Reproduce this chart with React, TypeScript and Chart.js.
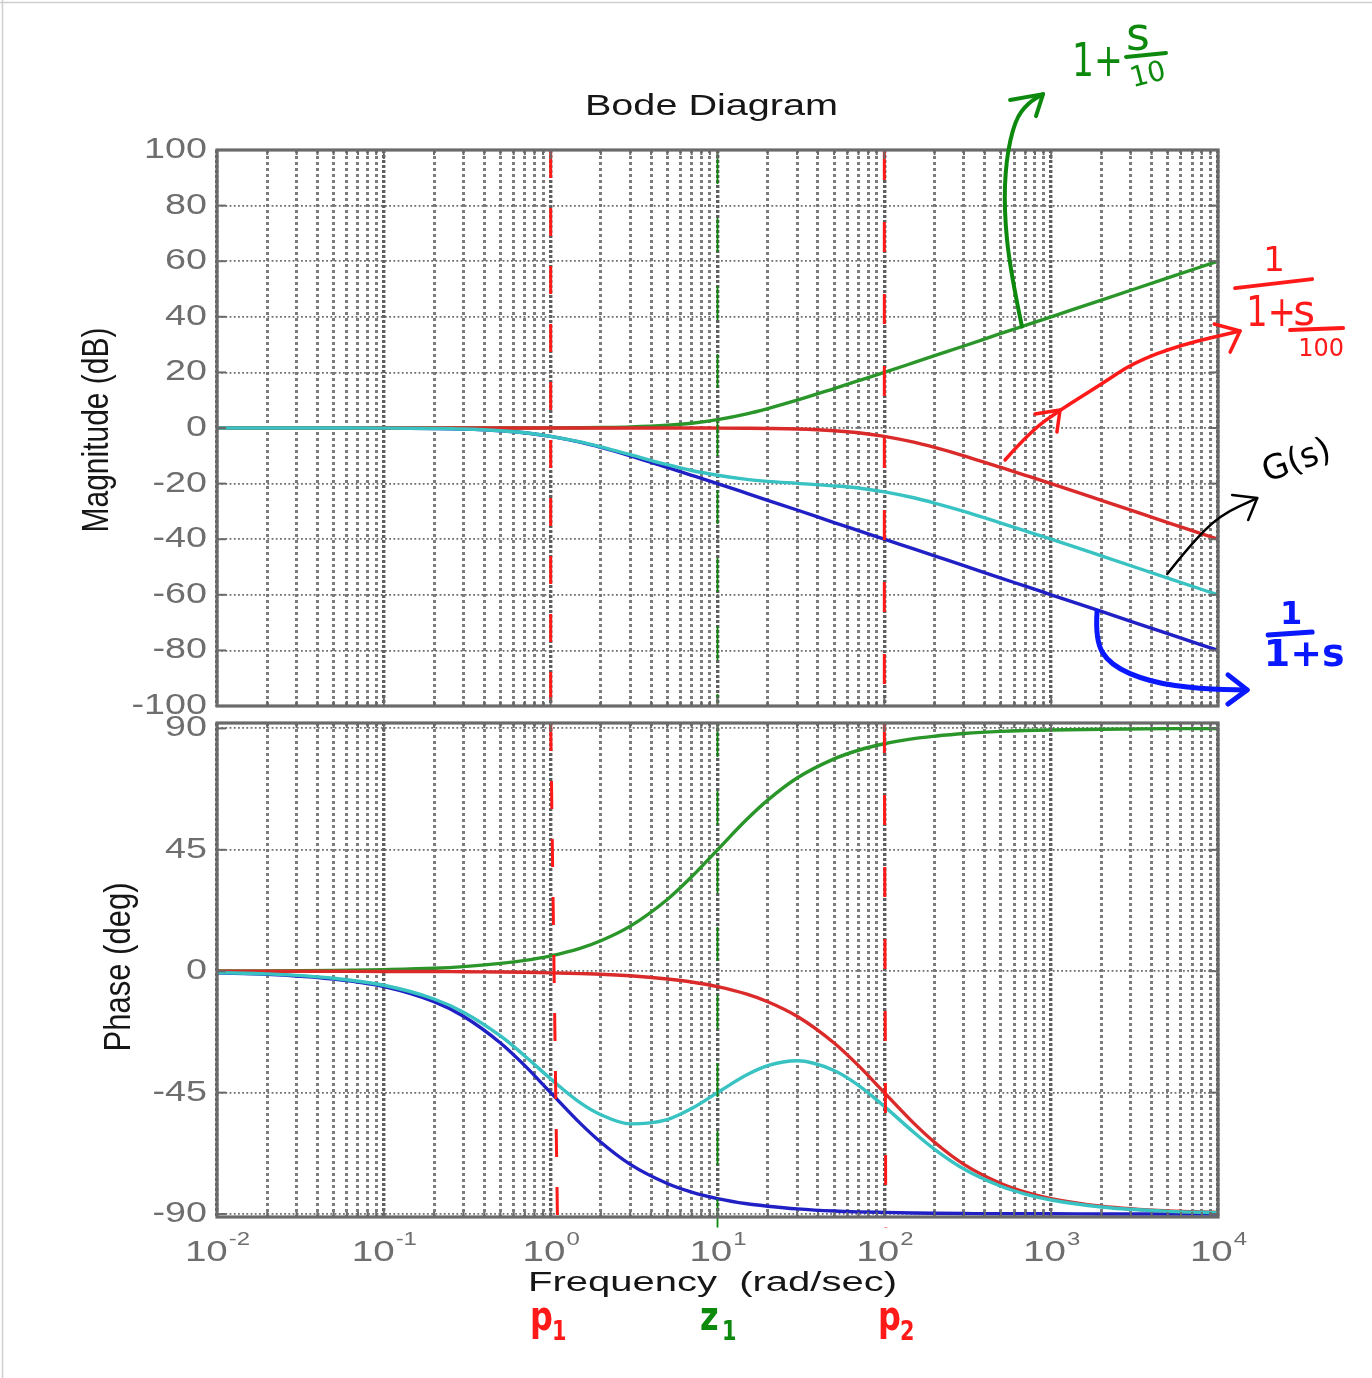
import React, { useEffect, useRef } from 'react';
import { Chart, registerables } from 'chart.js';
Chart.register(...registerables);

// ---------------- data ----------------
const freq = [0.01, 0.02, 0.05, 0.1, 0.2, 0.3, 0.5, 0.7, 1, 1.5, 2, 3, 5, 7, 10, 15, 20, 30, 50, 70, 100, 150, 200, 300, 500, 700, 1000, 2000, 5000, 10000];

const magBlue = [0, 0, -0.01, -0.04, -0.17, -0.37, -0.97, -1.7, -3.0, -5.1, -7.0, -10.0, -14.2, -17.0, -20.0, -23.5, -26.0, -29.5, -34.0, -36.9, -40.0, -43.5, -46.0, -49.5, -54.0, -56.9, -60.0, -66.0, -74.0, -80.0];
const magGreen = [0, 0, 0, 0, 0, 0, 0, 0.02, 0.04, 0.1, 0.17, 0.37, 0.97, 1.7, 3.0, 5.1, 7.0, 10.0, 14.2, 17.0, 20.0, 23.5, 26.0, 29.5, 34.0, 36.9, 40.0, 46.0, 54.0, 60.0];
const magRed = [0, 0, 0, 0, 0, 0, 0, 0, 0, 0, 0, 0, 0, 0, -0.04, -0.1, -0.17, -0.37, -0.97, -1.7, -3.0, -5.1, -7.0, -10.0, -14.2, -17.0, -20.0, -26.0, -34.0, -40.0];
const magG = [0, 0, -0.01, -0.04, -0.17, -0.37, -0.97, -1.7, -3.0, -5.0, -6.8, -9.6, -13.2, -15.3, -17.0, -18.5, -19.2, -19.9, -20.8, -21.6, -23.0, -25.1, -27.0, -30.0, -34.2, -37.0, -40.0, -46.0, -54.0, -60.0];

const phaseBlue = [-0.6, -1.1, -2.9, -5.7, -11.3, -16.7, -26.6, -35.0, -45.0, -56.3, -63.4, -71.6, -78.7, -81.9, -84.3, -86.2, -87.1, -88.1, -88.9, -89.2, -89.4, -89.6, -89.7, -89.8, -89.9, -89.9, -89.9, -90, -90, -90];
const phaseGreen = [0.06, 0.1, 0.3, 0.6, 1.1, 1.7, 2.9, 4.0, 5.7, 8.5, 11.3, 16.7, 26.6, 35.0, 45.0, 56.3, 63.4, 71.6, 78.7, 81.9, 84.3, 86.2, 87.1, 88.1, 88.9, 89.2, 89.4, 89.7, 89.9, 89.9];
const phaseRed = [0, 0, 0, -0.1, -0.1, -0.2, -0.3, -0.4, -0.6, -0.9, -1.1, -1.7, -2.9, -4.0, -5.7, -8.5, -11.3, -16.7, -26.6, -35.0, -45.0, -56.3, -63.4, -71.6, -78.7, -81.9, -84.3, -87.1, -88.9, -89.4];
const phaseG = [-0.5, -1.0, -2.6, -5.2, -10.3, -15.2, -24.0, -31.4, -39.9, -48.7, -53.2, -56.6, -55.0, -50.9, -45.0, -38.4, -35.0, -33.2, -36.8, -42.3, -50.1, -59.7, -66.0, -73.3, -79.7, -82.6, -84.8, -87.4, -89.0, -89.5];

const magTicks = [-100, -80, -60, -40, -20, 0, 20, 40, 60, 80, 100];
const phaseTicks = [-90, -45, 0, 45, 90];
const decadeExps = [-2, -1, 0, 1, 2, 3, 4];
const mantissas = [1, 2, 3, 4, 5, 6, 7, 8, 9];

// hand-drawn dashed markers (p1, z1, p2)
const handFreqs = [1, 10, 100];
const handLean = [1.1, 1.0, 1.02];

// hand-drawn arrows, in [frequency, value] units of the panel they sit on
const arrowGreenPath = [[668, 36.5], [567, 56.8], [522, 78.4], [536, 96.4], [607, 110.8], [727, 116.9], [894, 120.1]];
const arrowGreenHead = [[567, 118.0], [894, 120.1], [811, 112.2]];
const arrowRedPath = [[529, -11.5], [746, -1.4], [1130, 6.5], [1965, 15.5], [3097, 23.4], [5930, 29.9], [13550, 34.9]];
const arrowRedHeadMid = [[800, 5.0], [1130, 6.5], [1083, -1.4]];
const arrowRedHead = [[9490, 37.4], [13550, 34.9], [11830, 27.3]];
const arrowBlackPath = [[4966, -52.5], [6790, -42.1], [10280, -31.3], [17180, -25.2]];
const arrowBlackHead = [[12160, -24.1], [17180, -25.2], [15170, -33.1]];
const arrowBluePath = [[1884, -66], [1833, -76.3], [2255, -85.3], [3917, -91.4], [7818, -93.9], [14960, -94.2]];
const arrowBlueHead = [[11480, -88.8], [14960, -94.2], [11480, -99.3]];

const greenLabelAt = [2586, 136];
const redLabelAt = [27040, 46.0];
const gLabelAt = [29810, -12.2];
const blueLabelAt = [31070, -73.4];
const cornerLabels = [
  { at: [0.752, -132.9], main: 'p', sub: '1', color: '#ff1a1a' },
  { at: [7.857, -132.9], main: 'z', sub: '1', color: '#0d8a0d' },
  { at: [91.66, -132.9], main: 'p', sub: '2', color: '#ff1a1a' },
];

// ---------------- styles ----------------
const W = 1372;
const H = 1378;
const SANS = '"Liberation Sans", Arial, Helvetica, sans-serif';
const HAND = '"DejaVu Sans", "Liberation Sans", sans-serif';
const SX = 1.33;
const TICK_GREY = '#6e6e6e';
const FRAME = '#6a6a6a';
const C_BLUE = '#2020c4';
const C_GREEN = '#2a962a';
const C_RED = '#da2a2a';
const C_CYAN = '#38c2c2';
const INK_RED = '#ff1a1a';
const INK_GREEN = '#0d8a0d';
const INK_BLUE = '#0a18ff';

const gridFreqs: number[] = [];
decadeExps.slice(0, -1).forEach((e) => mantissas.forEach((m) => gridFreqs.push(m * Math.pow(10, e))));
gridFreqs.push(Math.pow(10, decadeExps[decadeExps.length - 1]));

const isDecade = (v: number) => {
  if (!v) return false;
  const l = Math.log10(v);
  return Math.abs(l - Math.round(l)) < 1e-6;
};

function drawText(ctx: any, s: string, x: number, y: number, size: number, o: any = {}) {
  ctx.save();
  ctx.font = `${o.weight || 'normal'} ${size}px ${o.family || SANS}`;
  let sx = o.sx ?? 1;
  if (o.fitW) sx = o.fitW / ctx.measureText(s).width;
  ctx.translate(x, y);
  if (o.rot) ctx.rotate(o.rot);
  ctx.scale(sx, o.sy ?? 1);
  ctx.textAlign = o.align || 'left';
  ctx.textBaseline = o.base || 'alphabetic';
  ctx.fillStyle = o.color || '#000';
  ctx.fillText(s, 0, 0);
  ctx.restore();
}

const toPx = (chart: any, p: number[]) => [chart.scales.x.getPixelForValue(p[0]), chart.scales.y.getPixelForValue(p[1])];

function strokeSmooth(ctx: any, pts: number[][]) {
  ctx.beginPath();
  ctx.moveTo(pts[0][0], pts[0][1]);
  for (let i = 1; i < pts.length - 1; i++) {
    const mx = (pts[i][0] + pts[i + 1][0]) / 2;
    const my = (pts[i][1] + pts[i + 1][1]) / 2;
    ctx.quadraticCurveTo(pts[i][0], pts[i][1], mx, my);
  }
  const last = pts[pts.length - 1];
  ctx.lineTo(last[0], last[1]);
  ctx.stroke();
}

function strokePoly(ctx: any, pts: number[][]) {
  ctx.beginPath();
  pts.forEach((p, i) => (i ? ctx.lineTo(p[0], p[1]) : ctx.moveTo(p[0], p[1])));
  ctx.stroke();
}

function drawArrow(chart: any, path: number[][], heads: number[][][], color: string, width: number) {
  const ctx = chart.ctx;
  ctx.save();
  ctx.strokeStyle = color;
  ctx.lineWidth = width;
  ctx.lineCap = 'round';
  ctx.lineJoin = 'round';
  strokeSmooth(ctx, path.map((p) => toPx(chart, p)));
  heads.forEach((h) => strokePoly(ctx, h.map((p) => toPx(chart, p))));
  ctx.restore();
}

function bar(ctx: any, x1: number, y1: number, x2: number, y2: number, color: string, w: number) {
  ctx.save();
  ctx.strokeStyle = color;
  ctx.lineWidth = w;
  ctx.lineCap = 'round';
  strokePoly(ctx, [[x1, y1], [x2, y2]]);
  ctx.restore();
}

function drawFrame(chart: any, yTicks: number[]) {
  const { ctx, chartArea: a } = chart;
  const xs = chart.scales.x;
  const ys = chart.scales.y;
  ctx.save();
  ctx.strokeStyle = FRAME;
  ctx.lineWidth = 2;
  yTicks.forEach((v) => {
    const y = ys.getPixelForValue(v);
    strokePoly(ctx, [[a.left, y], [a.left + 9, y]]);
    strokePoly(ctx, [[a.right - 9, y], [a.right, y]]);
  });
  gridFreqs.forEach((f) => {
    const x = xs.getPixelForValue(f);
    const len = isDecade(f) ? 9 : 5;
    strokePoly(ctx, [[x, a.top], [x, a.top + len]]);
    strokePoly(ctx, [[x, a.bottom - len], [x, a.bottom]]);
  });
  ctx.lineWidth = 3.2;
  ctx.strokeRect(a.left, a.top, a.right - a.left, a.bottom - a.top);
  ctx.restore();
  yTicks.forEach((v) => {
    drawText(ctx, String(v), a.left - 10, ys.getPixelForValue(v), 29, { align: 'right', base: 'middle', sx: 1.3, color: TICK_GREY });
  });
}

function xScale() {
  return {
    type: 'logarithmic',
    min: freq[0],
    max: freq[freq.length - 1],
    bounds: 'data',
    afterBuildTicks: (s: any) => {
      s.ticks = gridFreqs.map((v) => ({ value: v }));
    },
    afterFit: (s: any) => {
      s.height = 0;
    },
    ticks: { display: false, autoSkip: false },
    grid: {
      drawTicks: false,
      color: (c: any) => (isDecade(c.tick && c.tick.value) ? '#5e5e5e' : '#7c7c7c'),
      lineWidth: (c: any) => (isDecade(c.tick && c.tick.value) ? 3.4 : 3),
    },
    border: { display: false, dash: (c: any) => (isDecade(c.tick && c.tick.value) ? [3, 2] : [3, 3]) },
  };
}

function yScale(min: number, max: number, ticks: number[]) {
  return {
    type: 'linear',
    min,
    max,
    bounds: 'data',
    afterBuildTicks: (s: any) => {
      s.ticks = ticks.map((v) => ({ value: v }));
    },
    afterFit: (s: any) => {
      s.width = 0;
    },
    ticks: { display: false },
    grid: { drawTicks: false, color: '#6e6e6e', lineWidth: 1.8 },
    border: { display: false, dash: [1.8, 2.4] },
  };
}

const series = (ys: number[], color: string) => ({
  data: freq.map((x, i) => ({ x, y: ys[i] })),
  borderColor: color,
  borderWidth: 3.4,
  pointRadius: 0,
  cubicInterpolationMode: 'monotone',
  fill: false,
});

const handColors = [INK_RED, INK_GREEN, INK_RED];
const handWidths = [3, 1.8, 3];
const handDash = [[28, 30], [34, 34], [30, 42]];

const handSets = (yTop: number, yBot: number, lean: boolean) =>
  handFreqs.map((f, i) => ({
    data: [
      { x: f, y: yTop },
      { x: lean ? f * handLean[i] : f, y: yBot },
    ],
    borderColor: handColors[i],
    borderWidth: handWidths[i],
    borderDash: handDash[i],
    pointRadius: 0,
    clip: false,
    fill: false,
  }));

const magPlugin = {
  id: 'magDecor',
  beforeDraw(chart: any) {
    const ctx = chart.ctx;
    ctx.save();
    ctx.fillStyle = '#fff';
    ctx.fillRect(0, 0, W, H);
    ctx.strokeStyle = '#cfcfcf';
    ctx.lineWidth = 1.5;
    strokePoly(ctx, [[0, 2.5], [W, 2.5]]);
    strokePoly(ctx, [[2.5, 0], [2.5, H]]);
    ctx.restore();
  },
  afterDraw(chart: any) {
    const { ctx, chartArea: a } = chart;
    drawFrame(chart, magTicks);
    drawText(ctx, 'Bode Diagram', (a.left + a.right) / 2 - 6, a.top - 35, 30, { align: 'center', sx: 1.32, color: '#161616' });
    drawText(ctx, 'Magnitude (dB)', a.left - 119, (a.top + a.bottom) / 2 + 2, 30, { align: 'center', base: 'middle', rot: -Math.PI / 2, fitW: 205, sy: 1.25, color: '#161616' });

    // hand-drawn arrows
    drawArrow(chart, arrowGreenPath, [arrowGreenHead], INK_GREEN, 4);
    drawArrow(chart, arrowRedPath, [arrowRedHeadMid, arrowRedHead], INK_RED, 3.5);
    drawArrow(chart, arrowBlackPath, [arrowBlackHead], '#000', 2.5);
    drawArrow(chart, arrowBluePath, [arrowBlueHead], INK_BLUE, 5);

    // hand-written labels
    let [ax, ay] = toPx(chart, greenLabelAt);
    drawText(ctx, '1+', ax - 48, ay + 26, 46, { family: HAND, color: INK_GREEN, sx: 0.75 });
    drawText(ctx, 's', ax + 18, ay + 0, 46, { family: HAND, color: INK_GREEN, align: 'center' });
    bar(ctx, ax + 6, ay + 7, ax + 46, ay + 3, INK_GREEN, 4);
    drawText(ctx, '10', ax + 30, ay + 33, 28, { family: HAND, color: INK_GREEN, align: 'center', rot: -0.25 });

    [ax, ay] = toPx(chart, redLabelAt);
    drawText(ctx, '1', ax - 16, ay - 29, 34, { family: HAND, color: INK_RED, align: 'center' });
    bar(ctx, ax - 55, ay - 12, ax + 22, ay - 21, INK_RED, 4);
    drawText(ctx, '1+', ax - 19, ay + 26, 42, { family: HAND, color: INK_RED, align: 'center', sx: 0.8 });
    drawText(ctx, 's', ax + 14, ay + 25, 42, { family: HAND, color: INK_RED, align: 'center' });
    bar(ctx, ax + 0, ay + 30, ax + 53, ay + 28, INK_RED, 4);
    drawText(ctx, '100', ax + 31, ay + 56, 24, { family: HAND, color: INK_RED, align: 'center' });

    [ax, ay] = toPx(chart, gLabelAt);
    drawText(ctx, 'G(s)', ax, ay, 34, { family: HAND, color: '#000', align: 'center', base: 'middle', rot: -0.35 });

    [ax, ay] = toPx(chart, blueLabelAt);
    drawText(ctx, '1', ax - 9, ay - 8, 32, { family: HAND, color: INK_BLUE, align: 'center', weight: 'bold' });
    bar(ctx, ax - 32, ay + 3, ax + 12, ay, INK_BLUE, 5);
    drawText(ctx, '1+s', ax + 4, ay + 34, 38, { family: HAND, color: INK_BLUE, align: 'center', weight: 'bold' });
  },
};

const phasePlugin = {
  id: 'phaseDecor',
  afterDraw(chart: any) {
    const { ctx, chartArea: a } = chart;
    const xs = chart.scales.x;
    drawFrame(chart, phaseTicks);
    decadeExps.forEach((e) => {
      const px = xs.getPixelForValue(Math.pow(10, e));
      ctx.font = `29px ${SANS}`;
      const wb = ctx.measureText('10').width * SX;
      ctx.font = `18px ${SANS}`;
      const we = ctx.measureText(String(e)).width * SX;
      const x0 = px - (wb + we) / 2;
      drawText(ctx, '10', x0, a.bottom + 44, 29, { sx: SX, color: TICK_GREY });
      drawText(ctx, String(e), x0 + wb + 1, a.bottom + 28, 18, { sx: SX, color: TICK_GREY });
    });
    drawText(ctx, 'Frequency  (rad/sec)', (a.left + a.right) / 2 - 5, a.bottom + 74, 27, { align: 'center', fitW: 369, color: '#161616' });
    drawText(ctx, 'Phase (deg)', a.left - 97, (a.top + a.bottom) / 2 - 3, 30, { align: 'center', base: 'middle', rot: -Math.PI / 2, fitW: 169, sy: 1.25, color: '#161616' });

    cornerLabels.forEach((l) => {
      const [x, y] = toPx(chart, l.at);
      drawText(ctx, l.main, x, y, 40, { family: HAND, color: l.color, weight: 'bold', sx: 0.8 });
      drawText(ctx, l.sub, x + 22, y + 10, 26, { family: HAND, color: l.color, weight: 'bold', sx: 0.8 });
    });
  },
};

function baseOptions(yMin: number, yMax: number, yT: number[], pad: any) {
  return {
    responsive: false,
    animation: false,
    events: [],
    layout: { padding: pad },
    plugins: { legend: { display: false }, tooltip: { enabled: false }, title: { display: false } },
    scales: { x: xScale(), y: yScale(yMin, yMax, yT) },
  };
}

export default function App() {
  const magRef = useRef<HTMLCanvasElement>(null);
  const phRef = useRef<HTMLCanvasElement>(null);

  useEffect(() => {
    const c1 = new Chart(magRef.current as HTMLCanvasElement, {
      type: 'line',
      data: {
        datasets: [
          ...handSets(100, -100, false),
          series(magG, C_CYAN),
          series(magRed, C_RED),
          series(magGreen, C_GREEN),
          series(magBlue, C_BLUE),
        ] as any,
      },
      options: baseOptions(-100, 100, magTicks, { left: 217, right: W - 1218, top: 150, bottom: H - 706 }) as any,
      plugins: [magPlugin],
    });
    const c2 = new Chart(phRef.current as HTMLCanvasElement, {
      type: 'line',
      data: {
        datasets: [
          ...handSets(92, -95, true),
          series(phaseG, C_CYAN),
          series(phaseRed, C_RED),
          series(phaseGreen, C_GREEN),
          series(phaseBlue, C_BLUE),
        ] as any,
      },
      options: baseOptions(-91.1, 92, phaseTicks, { left: 217, right: W - 1218, top: 723, bottom: H - 1217 }) as any,
      plugins: [phasePlugin],
    });
    return () => {
      c1.destroy();
      c2.destroy();
    };
  }, []);

  return (
    <div style={{ position: 'absolute', left: 0, top: 0, width: W, height: H, background: '#fff', overflow: 'hidden' }}>
      <canvas ref={magRef} width={W} height={H} style={{ position: 'absolute', left: 0, top: 0 }} />
      <canvas ref={phRef} width={W} height={H} style={{ position: 'absolute', left: 0, top: 0 }} />
    </div>
  );
}
